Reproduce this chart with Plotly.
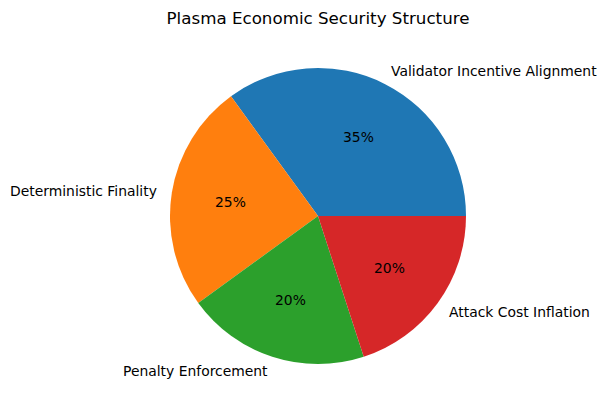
import math
import plotly.graph_objects as go

labels = ["Validator Incentive Alignment", "Deterministic Finality", "Penalty Enforcement", "Attack Cost Inflation"]
values = [35, 25, 20, 20]
colors = ["#1f77b4", "#ff7f0e", "#2ca02c", "#d62728"]

W, H = 607, 411
cx, cy, r = 318, 216, 148

total = sum(values)
first_end_deg = 360 * values[0] / total  # counterclockwise from 3 o'clock

fig = go.Figure(go.Pie(
    labels=labels, values=values, sort=False, direction="counterclockwise",
    rotation=90 - first_end_deg, marker=dict(colors=colors, line=dict(width=0)),
    textinfo="none", hoverinfo="label+percent", showlegend=False,
    domain=dict(x=[(cx - r) / W, (cx + r) / W], y=[1 - (cy + r) / H, 1 - (cy - r) / H]),
))

start = 0.0
font = "DejaVu Sans, sans-serif"
for lab, v in zip(labels, values):
    ang = math.radians(start + 360 * v / total / 2)
    start += 360 * v / total
    px = cx + 0.6 * r * math.cos(ang)
    py = cy - 0.6 * r * math.sin(ang)
    fig.add_annotation(x=px / W, y=1 - py / H, xref="paper", yref="paper",
                       text=f"{v / total * 100:.0f}%", showarrow=False,
                       xanchor="center", yanchor="middle",
                       font=dict(family=font, size=13.9, color="black"))
    lx = cx + 1.1 * r * math.cos(ang)
    ly = cy - 1.1 * r * math.sin(ang)
    right = math.cos(ang) > 0
    fig.add_annotation(x=lx / W, y=1 - ly / H, xref="paper", yref="paper",
                       text=lab, showarrow=False,
                       xanchor="left" if right else "right", yanchor="middle",
                       xshift=-3 if right else 2,
                       font=dict(family=font, size=13.9, color="black"))

fig.update_layout(
    width=W, height=H, margin=dict(l=0, r=0, t=0, b=0),
    paper_bgcolor="white", plot_bgcolor="white",
    title=dict(text="Plasma Economic Security Structure", x=cx / W, xanchor="center",
               y=1 - 18 / H, yanchor="middle", font=dict(family=font, size=16.7, color="black")),
)
fig.write_html("out.html", config={"displayModeBar": False},
               post_script="document.body.style.margin='0';")
